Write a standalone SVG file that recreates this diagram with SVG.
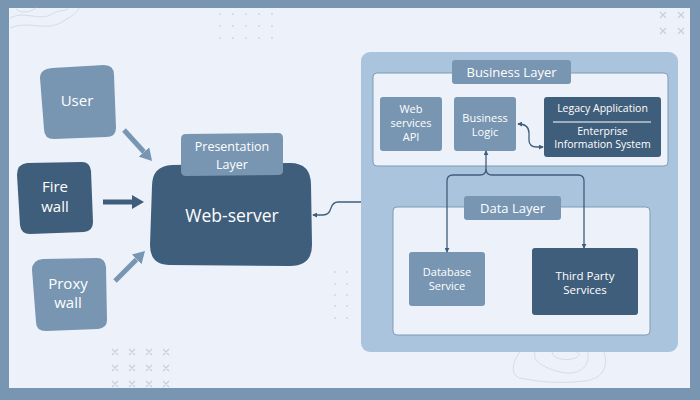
<svg xmlns="http://www.w3.org/2000/svg" width="700" height="400" viewBox="0 0 700 400">
<defs>
<style>
.t{font-family:"Open Sans","Noto Sans","Liberation Sans",sans-serif;fill:#ffffff;text-anchor:middle}
.light{fill:#7896b2}
.dark{fill:#3f5e7b}
.inner{fill:#edf1fa;stroke:#7f9bb5;stroke-width:1}
.big{stroke-width:5;fill:none}
.conn{fill:none;stroke:#3f5e7b;stroke-width:1.3}
.deco{fill:none;stroke:#d3dde9;stroke-width:1}
.xm{stroke:#c3d1e0;stroke-width:1.2}
.dot{fill:#c8d5e4}
</style>
<marker id="hl" viewBox="0 0 12 14" markerWidth="12" markerHeight="14" refX="0" refY="7" orient="auto" markerUnits="userSpaceOnUse"><path d="M0,0 L12,7 L0,14 Z" fill="#7896b2"/></marker>
<marker id="hd" viewBox="0 0 12 14" markerWidth="12" markerHeight="14" refX="0" refY="7" orient="auto" markerUnits="userSpaceOnUse"><path d="M0,0 L12,7 L0,14 Z" fill="#3f5e7b"/></marker>
<marker id="sa" viewBox="0 0 6 6" markerWidth="5" markerHeight="5" refX="5" refY="3" orient="auto-start-reverse" markerUnits="userSpaceOnUse"><path d="M0,0 L6,3 L0,6 Z" fill="#3f5e7b"/></marker>
</defs>
<rect x="0" y="0" width="700" height="400" fill="#7896b2"/>
<rect x="9" y="8" width="681" height="380" fill="#edf1fa"/>
<g id="decor">
<path class="deco" d="M10,18 C25,10 40,22 52,14 C60,9 66,12 68,8"/>
<path class="deco" d="M10,28 C30,20 45,32 62,22 C72,16 78,12 79,8"/>
<path class="deco" d="M16,9 C22,14 30,12 36,8"/>
<g class="dot">
<circle cx="220" cy="14" r="0.9"/><circle cx="233" cy="14" r="0.9"/><circle cx="246" cy="14" r="0.9"/><circle cx="259" cy="14" r="0.9"/><circle cx="272" cy="14" r="0.9"/>
<circle cx="220" cy="26" r="0.9"/><circle cx="233" cy="26" r="0.9"/><circle cx="246" cy="26" r="0.9"/><circle cx="259" cy="26" r="0.9"/><circle cx="272" cy="26" r="0.9"/>
<circle cx="220" cy="38" r="0.9"/><circle cx="233" cy="38" r="0.9"/><circle cx="246" cy="38" r="0.9"/><circle cx="259" cy="38" r="0.9"/><circle cx="272" cy="38" r="0.9"/>
<circle cx="335" cy="272" r="0.9"/><circle cx="347" cy="272" r="0.9"/>
<circle cx="335" cy="284" r="0.9"/><circle cx="347" cy="284" r="0.9"/>
<circle cx="335" cy="295" r="0.9"/><circle cx="347" cy="295" r="0.9"/>
<circle cx="335" cy="306" r="0.9"/><circle cx="347" cy="306" r="0.9"/>
<circle cx="335" cy="318" r="0.9"/><circle cx="347" cy="318" r="0.9"/>
</g>
<path class="xm" d="M660,12 l6,6 M666,12 l-6,6 M678,12 l6,6 M684,12 l-6,6 M660,28 l6,6 M666,28 l-6,6 M678,28 l6,6 M684,28 l-6,6"/>
<path class="xm" d="M112,349 l6,6 M118,349 l-6,6 M129,349 l6,6 M135,349 l-6,6 M146,349 l6,6 M152,349 l-6,6 M163,349 l6,6 M169,349 l-6,6 M112,365 l6,6 M118,365 l-6,6 M129,365 l6,6 M135,365 l-6,6 M146,365 l6,6 M152,365 l-6,6 M163,365 l6,6 M169,365 l-6,6 M112,381 l6,6 M118,381 l-6,6 M129,381 l6,6 M135,381 l-6,6 M146,381 l6,6 M152,381 l-6,6 M163,381 l6,6 M169,381 l-6,6"/>
<path class="deco" d="M520,352 C512,362 510,375 520,378 C540,382 560,384 585,381 C605,378 608,365 604,352"/>
<path class="deco" d="M535,352 C532,362 545,368 560,372 C578,376 590,368 588,352"/>
<path class="deco" d="M552,352 C552,358 565,362 575,358 C582,355 578,352 576,352"/>
</g>
<g id="user"><path class="light" d="M52,68 L104,65 Q114,65 114,75 L116,128 Q116,137 106,137 L54,139 Q44,139 44,129 L40,78 Q40,69 52,68 Z"/><text class="t" x="77" y="106" font-size="15">User</text></g>
<g id="firewall"><path class="dark" d="M27,163 L82,162 Q90,162 91,171 L93,222 Q93,231 84,232 L30,234 Q21,234 20,225 L17,175 Q17,164 27,163 Z"/><text class="t" x="55" y="192" font-size="15">Fire</text><text class="t" x="55" y="212" font-size="15">wall</text></g>
<g id="proxywall"><path class="light" d="M43,259 L97,258 Q105,258 106,267 L107,320 Q107,328 98,329 L46,331 Q36,331 36,322 L32,270 Q32,260 43,259 Z"/><text class="t" x="68" y="289" font-size="15">Proxy</text><text class="t" x="68" y="308" font-size="15">wall</text></g>
<g id="webserver"><path class="dark" d="M172,165 L290,163 Q311,163 311,185 L312,245 Q312,266 290,266 L170,265 Q150,265 150,245 L152,186 Q152,166 172,165 Z"/><text class="t" x="232" y="222" font-size="17.5">Web-server</text></g>
<g id="presentation"><path class="light" d="M186,134 L278,133 Q283,133 283,138 L283,171 Q283,175 278,175 L186,176 Q181,176 181,171 L181,139 Q181,134 186,134 Z"/><text class="t" x="232" y="151" font-size="12.5">Presentation</text><text class="t" x="232" y="169" font-size="12.5">Layer</text></g>
<g id="container"><rect x="361" y="52" width="317" height="300" rx="9" fill="#a9c4dc"/></g>
<g id="business-area"><rect class="inner" x="373" y="73" width="295" height="93" rx="4"/></g>
<g id="business-layer"><rect class="light" x="452" y="60" width="119" height="24" rx="3"/><text class="t" x="511.5" y="77" font-size="13">Business Layer</text></g>
<g id="webservices"><rect class="light" x="380" y="97" width="62" height="54" rx="3"/><text class="t" x="411" y="113" font-size="11">Web</text><text class="t" x="411" y="127" font-size="11">services</text><text class="t" x="411" y="141" font-size="11">API</text></g>
<g id="businesslogic"><rect class="light" x="454" y="97" width="62" height="54" rx="3"/><text class="t" x="485" y="122" font-size="11">Business</text><text class="t" x="485" y="136" font-size="11">Logic</text></g>
<g id="legacy"><rect class="dark" x="544" y="97" width="117" height="60" rx="3"/><text class="t" x="602.5" y="112" font-size="10.5">Legacy Application</text><line x1="553" y1="122" x2="651" y2="122" stroke="#ffffff" stroke-width="1"/><text class="t" x="602.5" y="135" font-size="10.5">Enterprise</text><text class="t" x="602.5" y="148" font-size="10.5">Information System</text></g>
<g id="data-area"><rect class="inner" x="393" y="207" width="257" height="128" rx="4"/></g>
<g id="data-layer"><rect class="light" x="464" y="196" width="97" height="24" rx="3"/><text class="t" x="512.5" y="213" font-size="13">Data Layer</text></g>
<g id="database"><rect class="light" x="409" y="252" width="76" height="54" rx="3"/><text class="t" x="447" y="276" font-size="11">Database</text><text class="t" x="447" y="290" font-size="11">Service</text></g>
<g id="thirdparty"><rect class="dark" x="532" y="248" width="106" height="67" rx="3"/><text class="t" x="585" y="280" font-size="11.5">Third Party</text><text class="t" x="585" y="294" font-size="11.5">Services</text></g>
<g id="connectors">
<line class="big" x1="124" y1="130" x2="144" y2="152" stroke="#7896b2" marker-end="url(#hl)"/>
<line class="big" x1="103" y1="202" x2="132" y2="202" stroke="#3f5e7b" marker-end="url(#hd)"/>
<line class="big" x1="115" y1="281" x2="136.5" y2="259.5" stroke="#7896b2" marker-end="url(#hl)"/>
<path class="conn" d="M361,202 L338,202 Q333,202 331,208 Q329,215 323,215 L313,215" marker-end="url(#sa)"/>
<path class="conn" d="M518,124 Q529,124 529,133 L529,140 Q529,147 537,147 L543,147" marker-start="url(#sa)" marker-end="url(#sa)"/>
<path class="conn" d="M486,151 L486,169 Q486,175 480,175 L453,175 Q447,175 447,181 L447,252" marker-start="url(#sa)" marker-end="url(#sa)"/>
<path class="conn" d="M486,169 Q486,175 492,175 L578,175 Q584,175 584,181 L584,248" marker-end="url(#sa)"/>
</g>
</svg>
